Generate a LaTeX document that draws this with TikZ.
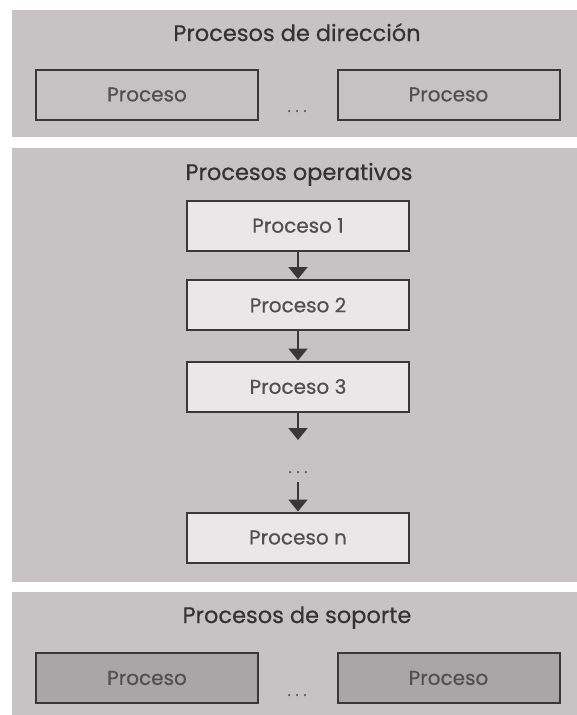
\documentclass[tikz,border=0pt]{standalone}
\usepackage{fontspec}
\setmainfont{Poppins}[FakeBold=0.6]
\usetikzlibrary{arrows.meta}

\definecolor{panelgray}{HTML}{C5C3C4}
\definecolor{boxlight}{HTML}{E9E7E8}
\definecolor{boxmid}{HTML}{C4C2C3}
\definecolor{boxdark}{HTML}{A8A6A7}
\definecolor{edge}{HTML}{383838}
\definecolor{ink}{HTML}{333333}
\definecolor{softink}{HTML}{505050}
\definecolor{dotgray}{HTML}{606060}

\tikzset{
  band/.style={fill=panelgray},
  bandtitle/.style={anchor=base, inner sep=0pt, text=ink, font=\fontsize{22.5}{26}\selectfont},
  procbox/.style={draw=edge, line width=2pt, minimum width=222pt, minimum height=50pt,
                  inner sep=0pt, text=softink, font=\fontsize{20}{24}\selectfont},
  dirbox/.style={procbox, fill=boxmid},
  opbox/.style={procbox, fill=boxlight},
  supbox/.style={procbox, fill=boxdark},
  ellip/.style={anchor=base, inner sep=0pt, text=dotgray, font=\fontsize{16}{16}\selectfont},
  conn/.style={draw=edge, line width=2pt, -{Triangle[width=19pt,length=12pt]}}
}

\newcommand{\threedots}{.\kern4.5pt.\kern4.5pt.}

\begin{document}
\begin{tikzpicture}[x=1pt, y=-1pt]
  \useasboundingbox (0,0) rectangle (577,715);
  \fill[white] (0,0) rectangle (577,715);

  % three horizontal bands
  \fill[band] (12,10)  rectangle (577,137);
  \fill[band] (12,148) rectangle (577,582);
  \fill[band] (12,592) rectangle (577,715);

  % management processes
  \node[bandtitle] (ttop) at (297,41) {Procesos de dirección};
  \node[dirbox] (dleft)  at (147,94.5)  {Proceso};
  \node[dirbox] (dright) at (448.5,94.5) {Proceso};
  \node[ellip] (ddots) at (297,112) {\threedots};

  % operational processes
  \node[bandtitle] (tmid) at (299,180) {Procesos operativos};
  \node[opbox] (p1) at (298,225.5) {Proceso 1};
  \node[opbox] (p2) at (298,305)   {Proceso 2};
  \node[opbox] (p3) at (298,386.5) {Proceso 3};
  \node[ellip] (vdots) at (298,473) {\threedots};
  \node[opbox] (pn) at (298,537.5) {Proceso n};
  \coordinate (c3) at (298,440);
  \coordinate (cn) at (298,482);

  \draw[conn] (p1) -- (p2);
  \draw[conn] (p2) -- (p3);
  \draw[conn] (p3) -- (c3);
  \draw[conn] (cn) -- (pn);

  % support processes
  \node[bandtitle] (tbot) at (297,623) {Procesos de soporte};
  \node[supbox] (sleft)  at (147,678)  {Proceso};
  \node[supbox] (sright) at (448.5,678) {Proceso};
  \node[ellip] (sdots) at (297,696) {\threedots};
\end{tikzpicture}
\end{document}
